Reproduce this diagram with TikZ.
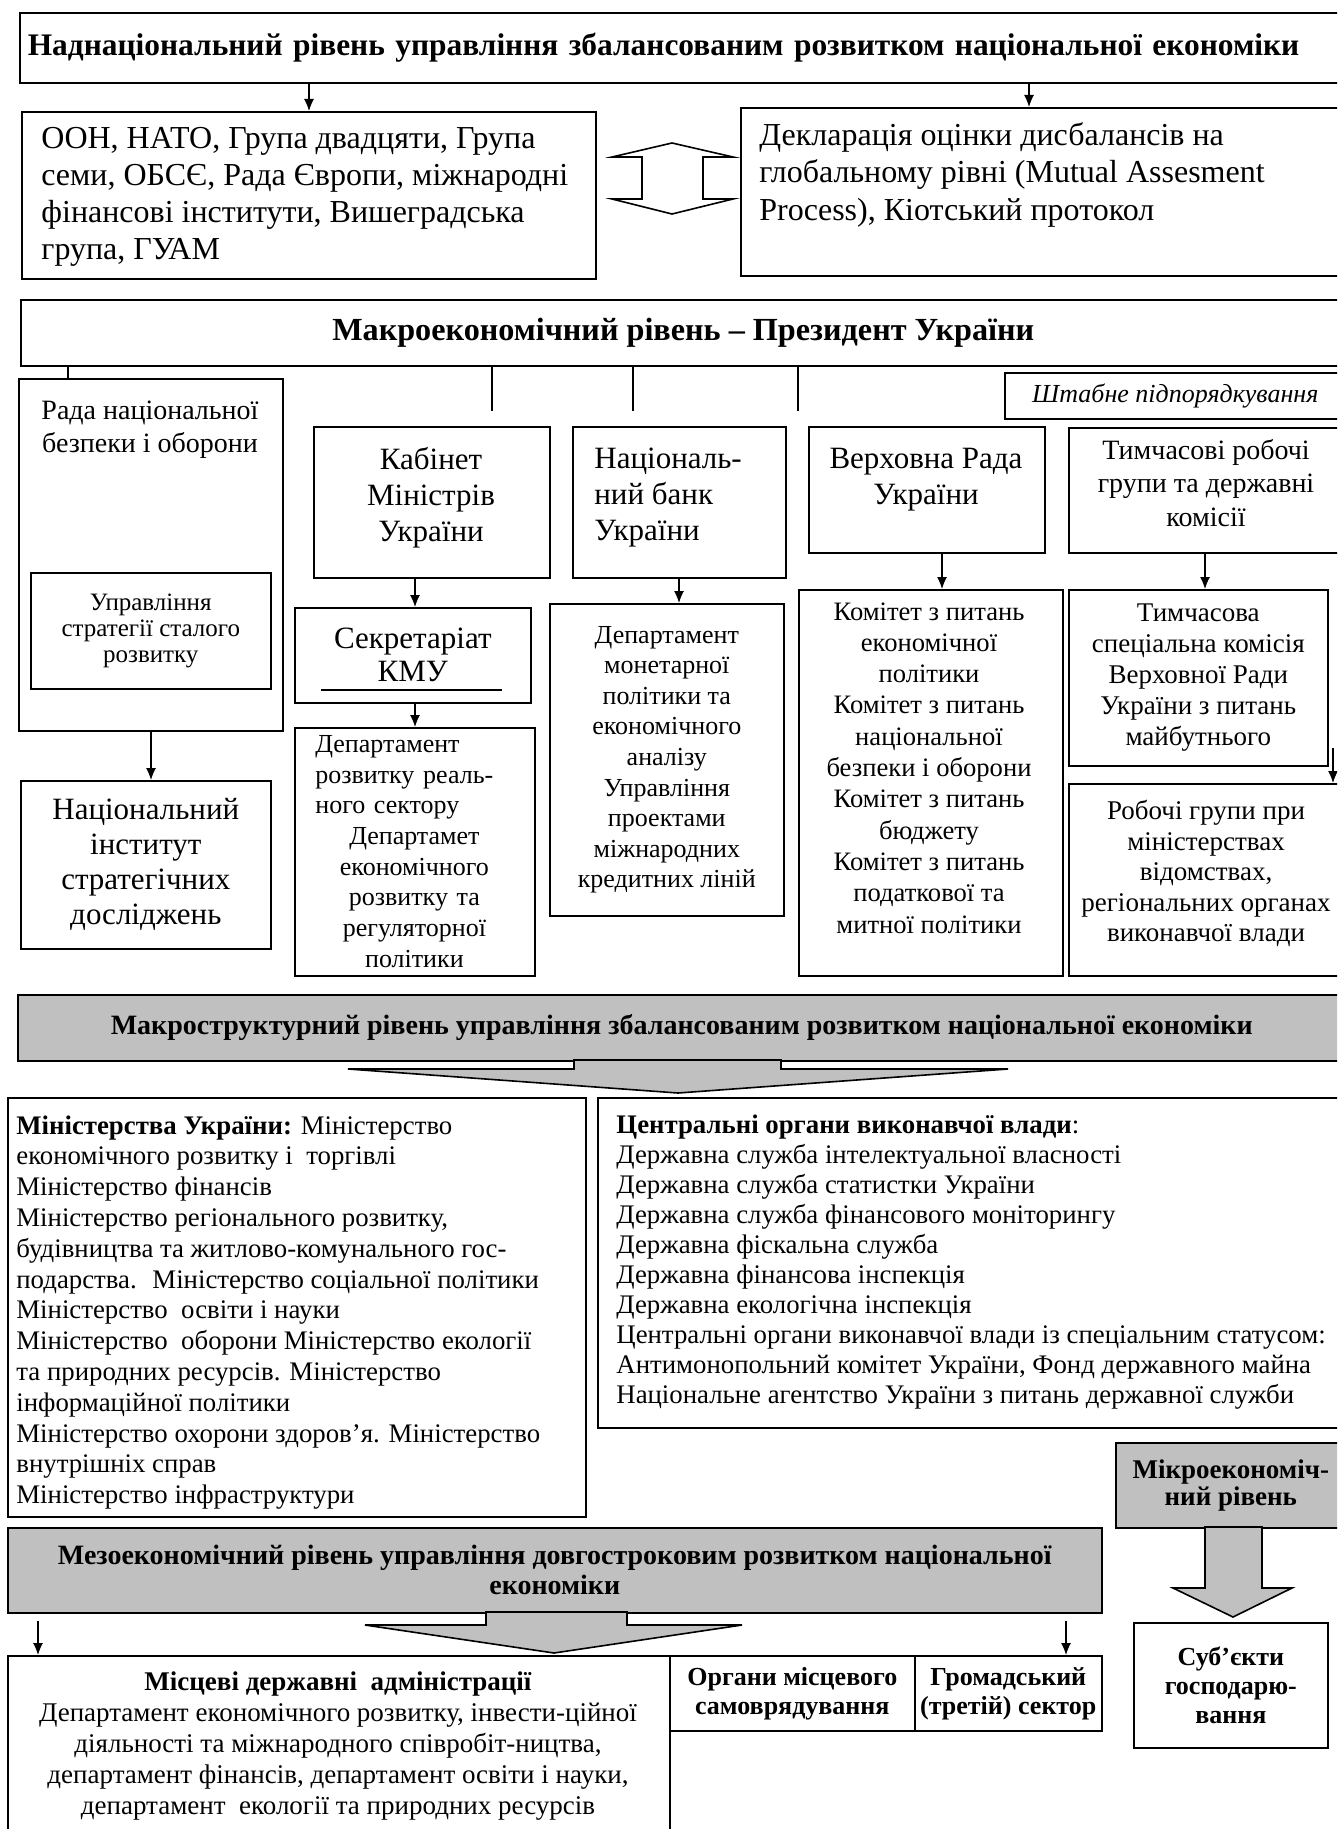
\documentclass[tikz,border=0pt]{standalone}
\usepackage{fontspec}
\setmainfont{Liberation Serif}
\usetikzlibrary{arrows.meta}
\definecolor{levelgray}{RGB}{192,192,192}
\tikzstyle{every picture}=[>={Latex[length=6pt,width=5pt]}]
\tikzstyle{box}=[draw, rectangle, line width=0.8pt, inner sep=2pt, align=center, anchor=north west]
\tikzstyle{greybox}=[box, fill=levelgray]
\tikzstyle{txt}=[inner sep=0pt, anchor=north west, align=left]
\tikzstyle{ctxt}=[inner sep=0pt, anchor=north, align=center]
\tikzstyle{link}=[line width=0.6pt]
\tikzset{wh/.style 2 args={minimum width=#1, minimum height=#2},
  fs/.style 2 args={font=\fontsize{#1}{#2}\selectfont},
  fsb/.style 2 args={font=\fontsize{#1}{#2}\selectfont\bfseries}}

\begin{document}
\begin{tikzpicture}[x=0.5pt,y=-0.5pt]
\useasboundingbox (0,0) rectangle (1337,1829);
\clip (0,0) rectangle (1337,1829);

% supranational level
\node[box, wh={663pt}{35pt}, fsb={15.7}{18}, align=left, text width=655pt, inner xsep=4pt] (supra) at (19,12) {Наднаціональний рівень управління збалансованим розвитком національної економіки};
\node[box, wh={287pt}{83.5pt}] (oon) at (21,111) {};
\node[txt, fs={16}{18.5}] (oont) at (41,127) {ООН, НАТО, Група двадцяти, Група\\семи, ОБСЄ, Рада Європи, міжнародні\\фінансові інститути, Вишеградська\\група, ГУАМ};
\node[box, wh={302.5pt}{84pt}] (decl) at (740,107) {};
\node[txt, fs={16}{18.75}] (declt) at (759,122) {Декларація оцінки дисбалансів на\\глобальному рівні (Mutual Assesment\\Process), Кіотський протокол};
\draw[line width=0.8pt, fill=white] (642,157) -- (612,157) -- (672,143) -- (733,157) -- (703,157) -- (703,199) -- (733,199) -- (672,214) -- (612,199) -- (642,199) -- cycle;

\coordinate (a1) at (309,0);
\coordinate (a2) at (1029,0);
\draw[link,->] (a1 |- supra.south) -- (a1 |- oon.north);
\draw[link,->] (a2 |- supra.south) -- (a2 |- decl.north);

% macroeconomic level
\node[box, wh={662.5pt}{33pt}, fsb={16.1}{19}] (macro) at (20,299) {Макроекономічний рівень – Президент України};

\node[box, wh={132pt}{176pt}] (rada) at (18,378) {};
\node[ctxt, fs={14}{16.5}] (radat) at (150,401) {Рада національної\\безпеки і оборони};
\node[box, wh={120pt}{58pt}, fs={12.5}{13}] (usr) at (30,572) {Управління\\стратегії сталого\\розвитку};
\node[box, wh={125pt}{84pt}, fs={15.5}{17.5}] (nisd) at (20,780) {Національний\\інститут\\стратегічних\\досліджень};

\node[box, wh={118pt}{75.5pt}] (kab) at (313,426) {};
\node[ctxt, fs={15.5}{18}] (kabt) at (431,447) {Кабінет\\Міністрів\\України};
\node[box, wh={118pt}{47.5pt}, fs={15.5}{16.5}] (secr) at (294,607) {Секретаріат\\КМУ};
\node[box, wh={120pt}{124pt}] (deprr) at (294,727) {};
\node[txt, fs={13}{15.35}, text width=99pt, align=center] (deprrt) at (315,735) {\makebox[\hsize][l]{Департамент}\\\makebox[\hsize][l]{розвитку реаль-}\\\makebox[\hsize][l]{ного сектору}\\Департамет\\економічного\\розвитку та\\регуляторної\\політики};

\node[box, wh={106.5pt}{75.5pt}] (nbu) at (572,426) {};
\node[txt, fs={15.5}{18}] (nbut) at (594,448) {Національ-\\ний банк\\України};
\node[box, wh={117pt}{156pt}, fs={13}{15.3}] (depmon) at (549,603) {Департамент\\монетарної\\політики та\\економічного\\аналізу\\Управління\\проектами\\міжнародних\\кредитних ліній};

\node[box, wh={118pt}{63pt}] (vr) at (808,426) {};
\node[ctxt, fs={15.5}{18}] (vrt) at (926,448) {Верховна Рада\\України};
\node[box, wh={132pt}{193pt}] (kom) at (798,589) {};
\node[ctxt, fs={13.3}{15.65}] (komt) at (929,602) {Комітет з питань\\економічної\\політики\\Комітет з питань\\національної\\безпеки і оборони\\Комітет з питань\\бюджету\\Комітет з питань\\податкової та\\митної політики};

\node[box, wh={170.5pt}{23pt}, font=\fontsize{13}{15}\selectfont\itshape] (shtab) at (1004,372) {Штабне підпорядкування};
\node[box, wh={138.5pt}{62.5pt}] (tg) at (1068,427) {};
\node[ctxt, fs={14}{16.75}] (tgt) at (1206,439) {Тимчасові робочі\\групи та державні\\комісії};
\node[box, wh={129.5pt}{88pt}, fs={13.5}{15.5}] (tsk) at (1068,589) {Тимчасова\\спеціальна комісія\\Верховної Ради\\України з питань\\майбутнього};
\node[box, wh={138.5pt}{96pt}] (rob) at (1068,783) {};
\node[ctxt, fs={13.5}{15.25}] (robt) at (1206,800) {Робочі групи при\\міністерствах\\відомствах,\\регіональних органах\\виконавчої влади};

\coordinate (c1) at (68,0);
\coordinate (c2) at (492,411);
\coordinate (c3) at (633,411);
\coordinate (c4) at (798,411);
\draw[link] (c1 |- macro.south) -- (c1 |- rada.north);
\draw[link] (c2 |- macro.south) -- (c2);
\draw[link] (c3 |- macro.south) -- (c3);
\draw[link] (c4 |- macro.south) -- (c4);

\coordinate (a3) at (151,0);
\coordinate (a4) at (415,0);
\coordinate (a5) at (679,0);
\coordinate (a6) at (942,0);
\coordinate (a7) at (1205,0);
\coordinate (a8) at (1333,748);
\draw[link,->] (a3 |- rada.south) -- (a3 |- nisd.north);
\draw[link,->] (a4 |- kab.south) -- (a4 |- secr.north);
\draw[link,->] (a4 |- secr.south) -- (a4 |- deprr.north);
\draw[link,->] (a5 |- nbu.south) -- (a5 |- depmon.north);
\draw[link,->] (a6 |- vr.south) -- (a6 |- kom.north);
\draw[link,->] (a7 |- tg.south) -- (a7 |- tsk.north);
\draw[link,->] (a8) -- (a8 |- rob.north);
\coordinate (u1) at (321,690);
\coordinate (u2) at (502,690);
\draw[link] (u1) -- (u2);

% macrostructural level
\node[greybox, wh={664pt}{33pt}, fsb={14}{16}] (mstruct) at (17,994) {Макроструктурний рівень управління збалансованим розвитком національної економіки};
\filldraw[fill=levelgray, line width=0.8pt] (574,1060) -- (574,1069) -- (348,1069) -- (678,1093) -- (1008,1069) -- (781,1069) -- (781,1060) -- cycle;

\node[box, wh={289pt}{209.5pt}] (min) at (7,1097) {};
\node[txt, fs={13.4}{15.4}] (mint) at (16,1115) {\textbf{Міністерства України:} Міністерство\\економічного розвитку і~ торгівлі\\Міністерство фінансів\\Міністерство регіонального розвитку,\\будівництва та житлово-комунального гос-\\подарства.~ Міністерство соціальної політики\\Міністерство~ освіти і науки\\Міністерство~ оборони Міністерство екології\\та природних ресурсів. Міністерство\\інформаційної політики\\Міністерство охорони здоров’я. Міністерство\\внутрішніх справ\\Міністерство інфраструктури};
\node[box, wh={374pt}{165pt}] (coa) at (597,1097) {};
\node[txt, fs={13.4}{15.05}] (coat) at (616,1114) {\textbf{Центральні органи виконавчої влади}:\\Державна служба інтелектуальної власності\\Державна служба статистки України\\Державна служба фінансового моніторингу\\Державна фіскальна служба\\Державна фінансова інспекція\\Державна екологічна інспекція\\Центральні органи виконавчої влади із спеціальним статусом:\\Антимонопольний комітет України, Фонд державного майна\\Національне агентство України з питань державної служби};

% microeconomic level
\node[greybox, wh={115pt}{42.5pt}, fsb={13.5}{13.5}] (micro) at (1115,1442) {Мікроекономіч-\\ний рівень};
\filldraw[fill=levelgray, line width=0.8pt] (1205,1527) -- (1205,1588) -- (1173,1588) -- (1233,1617) -- (1292,1588) -- (1262,1588) -- (1262,1527) -- cycle;
\node[box, wh={97pt}{62.5pt}, fsb={13}{14.5}] (sub) at (1133,1622) {Суб’єкти\\господарю-\\вання};

% mesoeconomic level
\node[greybox, wh={547pt}{42.5pt}, fsb={14}{15}] (mezo) at (7,1527) {Мезоекономічний рівень управління довгостроковим розвитком національної\\економіки};
\filldraw[fill=levelgray, line width=0.8pt] (486,1612) -- (486,1625) -- (365,1625) -- (554,1653) -- (742,1625) -- (627,1625) -- (627,1612) -- cycle;
\node[box, wh={331pt}{95pt}] (msc) at (7,1655) {};
\node[ctxt, fs={13.5}{15.6}] (msct) at (338,1671) {\textbf{Місцеві державні~ адміністрації}\\Департамент економічного розвитку, інвести-ційної\\діяльності та міжнародного співробіт-ництва,\\департамент фінансів, департамент освіти і науки,\\департамент~ екології та природних ресурсів};
\node[box, wh={122.5pt}{37.5pt}, fsb={13}{14.5}] (oms) at (669,1655) {Органи місцевого\\самоврядування};
\node[box, wh={93.5pt}{37.5pt}, fsb={13}{14.5}] (gs) at (914,1655) {Громадський\\(третій) сектор};

\coordinate (m1) at (38,1621);
\coordinate (m2) at (1066,1621);
\draw[link,->] (m1) -- (m1 |- msc.north);
\draw[link,->] (m2) -- (m2 |- gs.north);
\end{tikzpicture}
\end{document}
